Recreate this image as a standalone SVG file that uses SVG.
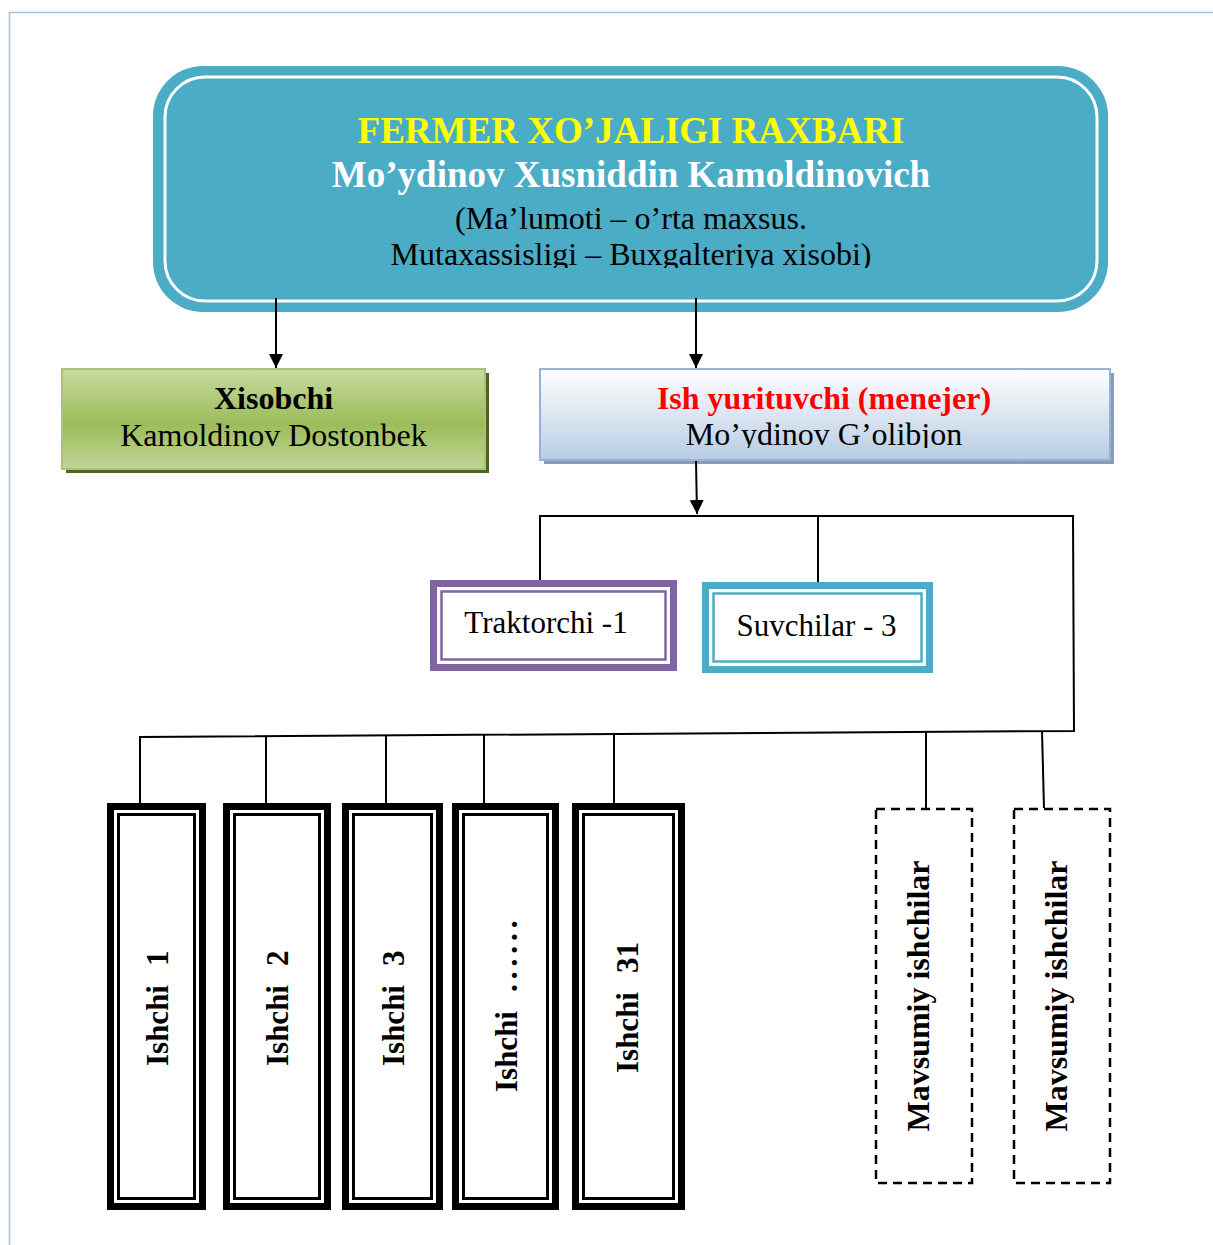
<svg xmlns="http://www.w3.org/2000/svg" width="1213" height="1245" viewBox="0 0 1213 1245">
<style>
.t{font-family:"Liberation Serif","Times New Roman",serif;}
.b{font-weight:bold;}
.c{stroke:#000;stroke-width:2;fill:none;}
.ish{font-family:"Liberation Serif","Times New Roman",serif;font-weight:bold;font-size:31px;fill:#000;}
.mav{font-family:"Liberation Serif","Times New Roman",serif;font-weight:bold;font-size:32px;fill:#000;text-anchor:middle;}
</style>
<defs>
<marker id="ah" markerUnits="userSpaceOnUse" markerWidth="14" markerHeight="16" viewBox="0 0 14 16" refX="14" refY="7" orient="auto">
<path d="M0,0 L14,7 L0,14 Z" fill="#000"/>
</marker>
<linearGradient id="gg" x1="0" y1="0" x2="0" y2="1">
<stop offset="0" stop-color="#C6DA9F"/>
<stop offset="0.55" stop-color="#9CBC5A"/>
<stop offset="1" stop-color="#C0D597"/>
</linearGradient>
<linearGradient id="bg" x1="0" y1="0" x2="0" y2="1">
<stop offset="0" stop-color="#FFFFFF"/>
<stop offset="1" stop-color="#B8CCE4"/>
</linearGradient>
<clipPath id="clipTop"><rect x="153" y="60" width="960" height="208"/></clipPath>
<clipPath id="clipMen"><rect x="540" y="369" width="570" height="79"/></clipPath>
</defs>

<rect width="1213" height="1245" fill="#fff"/>
<path d="M9.5,1245 V12.5 H1213" fill="none" stroke="#A9BEDF" stroke-width="1.5"/>

<g id="rahbar">
<rect x="153" y="66" width="955" height="246" rx="50" fill="#4BACC6"/>
<rect x="165" y="77" width="932" height="224" rx="40" fill="none" stroke="#fff" stroke-width="3"/>
<text class="t b" x="631" y="143" font-size="37" fill="#FFFF00" text-anchor="middle">FERMER XO’JALIGI RAXBARI</text>
<text class="t b" x="631" y="187" font-size="37" fill="#fff" text-anchor="middle">Mo’ydinov Xusniddin Kamoldinovich</text>
<text class="t" x="631" y="229" font-size="32" fill="#000" text-anchor="middle">(Ma’lumoti – o’rta maxsus.</text>
<text class="t" x="631" y="265" font-size="32" fill="#000" text-anchor="middle" clip-path="url(#clipTop)">Mutaxassisligi – Buxgalteriya xisobi)</text>
</g>

<g id="xisobchi">
<rect x="66" y="373" width="423" height="100" fill="#4F6228"/>
<rect x="62" y="369" width="423" height="100" fill="url(#gg)" stroke="#A9C574" stroke-width="2"/>
<text class="t b" x="273.5" y="409" font-size="32" text-anchor="middle">Xisobchi</text>
<text class="t" x="273.5" y="446" font-size="32" text-anchor="middle">Kamoldinov Dostonbek</text>
</g>

<g id="menejer">
<rect x="544" y="373" width="570" height="91" fill="#8B9BB3"/>
<rect x="540" y="369" width="570" height="91" fill="url(#bg)" stroke="#95B3D7" stroke-width="2"/>
<text class="t b" x="824" y="409" font-size="32" fill="#FF0000" text-anchor="middle">Ish yurituvchi (menejer)</text>
<text class="t" x="824" y="445" font-size="32" text-anchor="middle" clip-path="url(#clipMen)">Mo’ydinov G’olibjon</text>
</g>

<g id="traktorchi">
<rect x="430" y="580" width="247" height="91" fill="#8064A2"/>
<rect x="437" y="587" width="233" height="77" fill="#fff"/>
<rect x="441.5" y="591.5" width="224" height="68" fill="none" stroke="#8064A2" stroke-width="2.5"/>
<text class="t" x="546" y="633" font-size="31" text-anchor="middle">Traktorchi -1</text>
</g>

<g id="suvchilar">
<rect x="702" y="582" width="231" height="91" fill="#4BACC6"/>
<rect x="709" y="589" width="217" height="77" fill="#fff"/>
<rect x="713.5" y="593.5" width="208" height="68" fill="none" stroke="#4BACC6" stroke-width="2.5"/>
<text class="t" x="816.5" y="636" font-size="31" text-anchor="middle">Suvchilar - 3</text>
</g>

<g id="ishchi1">
<rect x="107" y="803" width="99" height="407" fill="#000"/>
<rect x="114" y="810" width="85" height="393" fill="#fff"/>
<rect x="118.5" y="814.5" width="76" height="384" fill="none" stroke="#000" stroke-width="3"/>
<text class="ish" transform="translate(168,1066) rotate(-90)">Ishchi<tspan x="100">1</tspan></text>
</g>
<g id="ishchi2">
<rect x="223" y="803" width="108" height="407" fill="#000"/>
<rect x="230" y="810" width="94" height="393" fill="#fff"/>
<rect x="234.5" y="814.5" width="85" height="384" fill="none" stroke="#000" stroke-width="3"/>
<text class="ish" transform="translate(288,1066) rotate(-90)">Ishchi<tspan x="100">2</tspan></text>
</g>
<g id="ishchi3">
<rect x="342" y="803" width="101" height="407" fill="#000"/>
<rect x="349" y="810" width="87" height="393" fill="#fff"/>
<rect x="353.5" y="814.5" width="78" height="384" fill="none" stroke="#000" stroke-width="3"/>
<text class="ish" transform="translate(404,1066) rotate(-90)">Ishchi<tspan x="100">3</tspan></text>
</g>
<g id="ishchi4">
<rect x="452" y="803" width="107" height="407" fill="#000"/>
<rect x="459" y="810" width="93" height="393" fill="#fff"/>
<rect x="463.5" y="814.5" width="84" height="384" fill="none" stroke="#000" stroke-width="3"/>
<text class="ish" transform="translate(517,1092) rotate(-90)">Ishchi<tspan x="100" letter-spacing="5">......</tspan></text>
</g>
<g id="ishchi31">
<rect x="572" y="803" width="113" height="407" fill="#000"/>
<rect x="579" y="810" width="99" height="393" fill="#fff"/>
<rect x="583.5" y="814.5" width="90" height="384" fill="none" stroke="#000" stroke-width="3"/>
<text class="ish" transform="translate(638,1073) rotate(-90)">Ishchi<tspan x="100">31</tspan></text>
</g>

<g id="mavsumiy1">
<rect x="876" y="809" width="96" height="374" fill="none" stroke="#000" stroke-width="2.5" stroke-dasharray="9,6"/>
<text class="mav" transform="translate(929,996) rotate(-90)">Mavsumiy ishchilar</text>
</g>
<g id="mavsumiy2">
<rect x="1014" y="809" width="96" height="374" fill="none" stroke="#000" stroke-width="2.5" stroke-dasharray="9,6"/>
<text class="mav" transform="translate(1067,996) rotate(-90)">Mavsumiy ishchilar</text>
</g>

<g id="connectors">
<line class="c" x1="276" y1="298" x2="276" y2="368" marker-end="url(#ah)"/>
<line class="c" x1="696" y1="298" x2="696" y2="368" marker-end="url(#ah)"/>
<line class="c" x1="696" y1="461" x2="697" y2="514" marker-end="url(#ah)"/>
<polyline class="c" points="540,580 540,516 1073,516 1074,731 140,737 140,803"/>
<line class="c" x1="818" y1="516" x2="818" y2="582"/>
<line class="c" x1="266" y1="736" x2="266" y2="803"/>
<line class="c" x1="386" y1="735" x2="386" y2="803"/>
<line class="c" x1="484" y1="735" x2="484" y2="803"/>
<line class="c" x1="614" y1="734" x2="614" y2="803"/>
<line class="c" x1="926" y1="732" x2="926" y2="808"/>
<line class="c" x1="1042" y1="731" x2="1044" y2="808"/>
</g>
</svg>
